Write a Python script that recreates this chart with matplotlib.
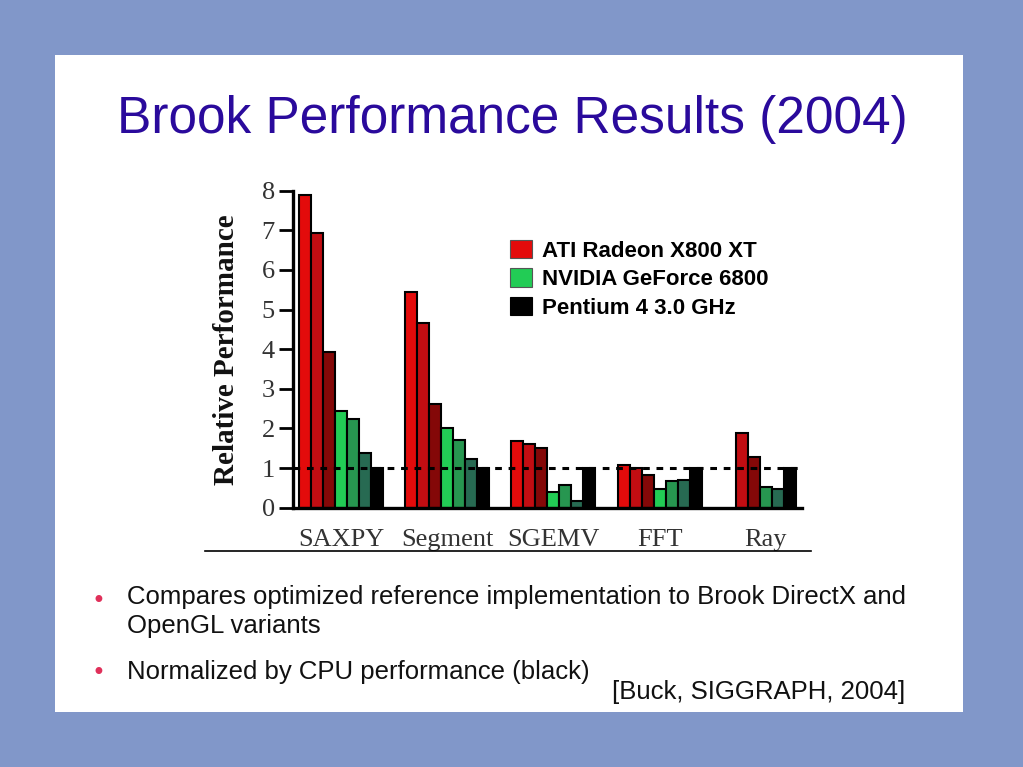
import numpy as np
import matplotlib.pyplot as plt
from matplotlib.patches import Patch, Rectangle
from matplotlib.lines import Line2D

# Brook benchmark results, relative to the Pentium 4 (=1)
benchmarks = ['SAXPY', 'Segment', 'SGEMV', 'FFT', 'Ray']
ati_a = [7.90, 5.44, 1.68, 1.07, np.nan]
ati_b = [6.94, 4.67, 1.61, 0.99, 1.88]
ati_c = [3.93, 2.61, 1.51, 0.83, 1.27]
nv_a = [2.45, 2.00, 0.39, 0.46, np.nan]
nv_b = [2.23, 1.71, 0.57, 0.67, 0.52]
nv_c = [1.39, 1.22, 0.17, 0.71, 0.48]
cpu = [1.0, 1.0, 1.0, 1.0, 1.0]

legend_labels = ['ATI Radeon X800 XT', 'NVIDIA GeForce 6800', 'Pentium 4 3.0 GHz']
yticks = [0, 1, 2, 3, 4, 5, 6, 7, 8]

title = 'Brook Performance Results (2004)'
bullets = ['Compares optimized reference implementation to Brook DirectX and\nOpenGL variants',
           'Normalized by CPU performance (black)']
citation = '[Buck, SIGGRAPH, 2004]'

series = [ati_a, ati_b, ati_c, nv_a, nv_b, nv_c, cpu]
colors = ['#e30b0b', '#c20d12', '#840808', '#22cc55', '#279650', '#276a52', '#000000']

W, H = 1023, 767
fig = plt.figure(figsize=(W / 100, H / 100), dpi=100)
fig.patch.set_facecolor('#8197c9')

# white slide panel, kept behind the axes
fig.patches.append(Rectangle((55 / W, 1 - 712 / H), (963 - 55) / W, (712 - 55) / H,
                             transform=fig.transFigure, facecolor='white', edgecolor='none', zorder=-5))

fig.text(512 / W, 1 - 120 / H, title, ha='center', va='center', fontsize=37,
         color='#2a0a9c', family='Liberation Sans')

ax = fig.add_axes([293 / W, 1 - 507.7 / H, (801.7 - 293) / W, (507.7 - 190.7) / H])
ax.set_facecolor('none')

centers = 4 + 8.85 * np.arange(len(benchmarks))
for i, c in enumerate(centers):
    present = [(s[i], col) for s, col in zip(series, colors) if not np.isnan(s[i])]
    n = len(present)
    for j, (v, col) in enumerate(present):
        ax.bar(c + j - (n - 1) / 2, v, width=1.0, color=col, edgecolor='black', linewidth=1.5, zorder=2)

ax.axhline(1, color='black', lw=2.2, ls=(0, (2.2, 2.2)), zorder=3)

ax.set_xlim(0, (801.7 - 293) / 12)
ax.set_ylim(0, 8)
ax.set_yticks(yticks)
ax.set_yticklabels([str(t) for t in yticks], family='Liberation Serif', fontsize=19, color='#333333')
ax.tick_params(axis='y', direction='out', length=10, width=2, pad=3)
ax.set_xticks(centers)
ax.set_xticklabels(benchmarks, family='Liberation Serif', fontsize=19, color='#333333')
ax.tick_params(axis='x', length=0, pad=15)
for side in ['top', 'right']:
    ax.spines[side].set_visible(False)
ax.spines['left'].set_linewidth(2.4)
ax.spines['bottom'].set_linewidth(2.4)

fig.text(226 / W, 1 - 350 / H, 'Relative Performance', rotation=90, ha='center', va='center',
         fontsize=21, fontweight='bold', family='Liberation Serif', color='#111111')

handles = [Patch(facecolor=colors[0], edgecolor='#555555', linewidth=0.8),
           Patch(facecolor=colors[3], edgecolor='#555555', linewidth=0.8),
           Patch(facecolor=colors[6], edgecolor='black', linewidth=0.8)]
leg = fig.legend(handles, legend_labels, loc='upper left', bbox_to_anchor=(503 / W, 1 - 233 / H),
                 frameon=False, prop={'family': 'Liberation Sans', 'weight': 'bold', 'size': 16},
                 handlelength=1.0, handleheight=0.9, handletextpad=0.45, labelspacing=0.3,
                 borderaxespad=0, borderpad=0.3)

# rule under the category labels
fig.add_artist(Line2D([205 / W, 811 / W], [1 - 551 / H, 1 - 551 / H], color='black', lw=1.2,
                      transform=fig.transFigure))

fig.text(98 / W, 1 - 601 / H, '\u2022', color='#e0305a', fontsize=17, ha='center', va='center')
fig.text(127 / W, 1 - 585 / H, bullets[0], fontsize=18.5, va='top', ha='left',
         family='Liberation Sans', color='#111111', linespacing=1.25)
fig.text(98 / W, 1 - 673 / H, '\u2022', color='#e0305a', fontsize=17, ha='center', va='center')
fig.text(127 / W, 1 - 672 / H, bullets[1], fontsize=18.5, va='center', ha='left',
         family='Liberation Sans', color='#111111')
fig.text(905 / W, 1 - 692 / H, citation, fontsize=18.5, va='center', ha='right',
         family='Liberation Sans', color='#111111')

fig.savefig('out.png', dpi=100, facecolor=fig.get_facecolor())
